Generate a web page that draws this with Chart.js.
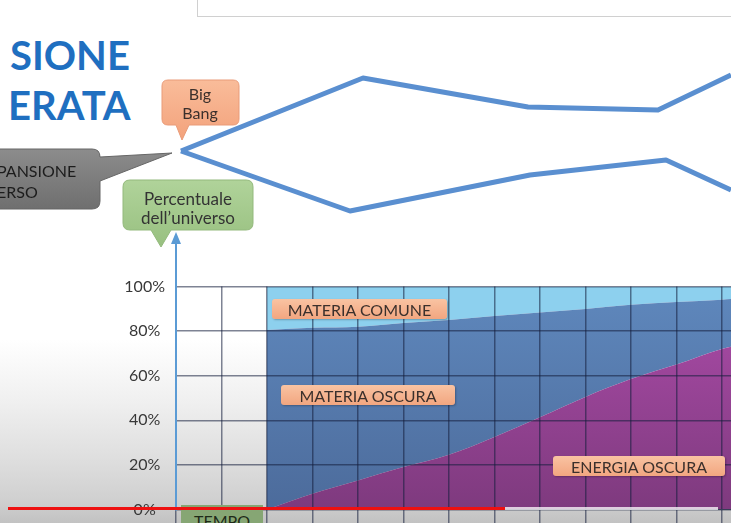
<!DOCTYPE html>
<html>
<head>
<meta charset="utf-8">
<script src="https://cdn.jsdelivr.net/npm/chart.js@4.4.0/dist/chart.umd.min.js"></script>
<style>
  html, body { margin: 0; padding: 0; }
  body {
    width: 731px; height: 523px; overflow: hidden; position: relative;
    font-family: Lato, "Open Sans", sans-serif;
    background: linear-gradient(to bottom, #fff 0px, #fff 340px, #f0f0f0 400px, #dedede 460px, #d0d0d0 500px, #c2c2c2 523px);
  }
  canvas { position: absolute; }
  #outline { left: 0; top: 0; }
  #shares { left: 0; top: 266px; }
  .title { position: absolute; color: #1f6fc0; font-weight: 700; font-size: 40px; }
  .tag {
    position: absolute; height: 20px; line-height: 21px; text-align: center;
    font-size: 16px; color: #3b302c; border-radius: 3px;
    background: linear-gradient(#f9c3a2, #f2a680);
    box-shadow: 1px 1px 2px rgba(0,0,0,0.25);
  }
  .bar { position: absolute; top: 507px; height: 3px; }
  svg { position: absolute; left: 0; top: 0; }
</style>
</head>
<body>
<div style="position:absolute;left:197px;top:0;width:540px;height:16px;border-left:1px solid #d0d0d0;border-bottom:1px solid #d0d0d0;"></div>
<div class="title" style="left:10px;top:31px;">SIONE</div>
<div class="title" style="left:8px;top:81px;">ERATA</div>

<canvas id="outline" width="731" height="260"></canvas>

<svg width="731" height="523">
  <defs>
    <linearGradient id="gOrange" x1="0" y1="0" x2="0" y2="1">
      <stop offset="0" stop-color="#f9bc9a"/><stop offset="1" stop-color="#f3a27c"/>
    </linearGradient>
    <linearGradient id="gGrey" x1="0" y1="0" x2="0" y2="1">
      <stop offset="0" stop-color="#8c8c8c"/><stop offset="1" stop-color="#6f6f6f"/>
    </linearGradient>
    <linearGradient id="gGreen" x1="0" y1="0" x2="0" y2="1">
      <stop offset="0" stop-color="#b0d39a"/><stop offset="1" stop-color="#98c080"/>
    </linearGradient>
  </defs>
  <!-- Big Bang -->
  <path d="M168,80 H233 Q239,80 239,86 V119 Q239,125 233,125 H189 L182,140 L176,125 H168 Q162,125 162,119 V86 Q162,80 168,80 Z"
        fill="url(#gOrange)" stroke="#e99b78" stroke-width="1"/>
  <text x="200" y="100" font-size="16" text-anchor="middle" fill="#3b302c" font-family="Lato">Big</text>
  <text x="200" y="119" font-size="16" text-anchor="middle" fill="#3b302c" font-family="Lato">Bang</text>
  <!-- espansione -->
  <path d="M-10,149 H92 Q100,149 100,157 L172,153 L100,181 V201 Q100,209 92,209 H-10 Z"
        fill="url(#gGrey)" stroke="#666" stroke-width="1"/>
  <text x="-3" y="177" font-size="16" fill="#1c1c1c" font-family="Lato">PANSIONE</text>
  <text x="-3" y="198" font-size="16" fill="#1c1c1c" font-family="Lato">ERSO</text>
  <!-- asse verticale -->
  <path d="M130,180 H246 Q253,180 253,187 V223 Q253,230 246,230 H171 L161,247 L151,230 H130 Q123,230 123,223 V187 Q123,180 130,180 Z"
        fill="url(#gGreen)" stroke="#93b97c" stroke-width="1"/>
  <text x="188" y="205" font-size="17" text-anchor="middle" fill="#333" font-family="Lato">Percentuale</text>
  <text x="188" y="224" font-size="17" text-anchor="middle" fill="#333" font-family="Lato">dell’universo</text>
  <line x1="176" y1="240" x2="176" y2="290" stroke="#5b9bd5" stroke-width="2"/>
  <polygon points="171,244 181,244 176,232" fill="#5b9bd5"/>
</svg>

<canvas id="shares" width="731" height="264"></canvas>

<div class="tag" style="left:272px;top:299px;width:175px;">MATERIA COMUNE</div>
<div class="tag" style="left:281px;top:385px;width:174px;">MATERIA OSCURA</div>
<div class="tag" style="left:553px;top:456px;width:172px;">ENERGIA OSCURA</div>

<svg width="731" height="523" style="pointer-events:none">
  <rect x="181" y="505" width="82" height="30" fill="#86a674"/>
  <text x="222" y="527" font-size="16" text-anchor="middle" fill="#1e2a18" font-family="Lato">TEMPO</text>
</svg>
<div class="bar" style="left:505px;width:213px;background:rgba(255,255,255,0.75);"></div>
<div class="bar" style="left:8px;width:497px;background:#ee1111;"></div>

<script>
// time steps (grid cells) where the composition is sampled
var timeSteps = [2, 3, 4, 5, 6, 7, 8, 9, 10, 11, 12, 12.2];
// share of the universe, percent
var energiaOscura = [0, 7, 13, 19, 24.5, 32.5, 41.4, 50.5, 58.5, 65, 72, 73];
var materiaOscura = [80.5, 74.5, 69, 64.7, 60.5, 54.3, 47, 39.5, 33.4, 28.1, 22.1, 21.4];
var materiaComune = [19.5, 18.5, 18, 16.3, 15, 13.2, 11.6, 10, 8.1, 6.9, 5.9, 5.6];
var yTicks = [0, 20, 40, 60, 80, 100];

// edges of the expanding universe sketch
var upperX = [181, 363, 528, 658, 731];
var upperEdge = [151, 78, 107, 110, 75];
var lowerX = [181, 350, 530, 666, 731];
var lowerEdge = [151, 211, 175, 160, 190];

function points(xs, ys) {
  return xs.map(function (x, i) { return { x: x, y: ys[i] }; });
}

function vGrad(top, bottom) {
  return function (ctx) {
    var area = ctx.chart.chartArea;
    if (!area) return top;
    var g = ctx.chart.ctx.createLinearGradient(0, area.top, 0, area.bottom);
    g.addColorStop(0, top);
    g.addColorStop(1, bottom);
    return g;
  };
}

var gridColor = 'rgba(20,30,60,0.55)';

new Chart(document.getElementById('outline'), {
  type: 'scatter',
  data: {
    datasets: [
      { data: points(upperX, upperEdge) },
      { data: points(lowerX, lowerEdge) }
    ]
  },
  options: {
    responsive: false,
    animation: false,
    layout: { padding: 0 },
    showLine: true,
    elements: {
      point: { radius: 0 },
      line: { borderColor: '#5a8fd0', borderWidth: 5, tension: 0, borderJoinStyle: 'round' }
    },
    plugins: { legend: { display: false }, tooltip: { enabled: false } },
    scales: {
      x: { type: 'linear', display: false, min: 0, max: 731 },
      y: { type: 'linear', display: false, min: 0, max: 260, reverse: true }
    }
  }
});

new Chart(document.getElementById('shares'), {
  type: 'line',
  data: {
    datasets: [
      { label: 'Energia oscura', data: points(timeSteps, energiaOscura), fill: 'origin',
        backgroundColor: vGrad('#ad4caa', '#7e3a7e') },
      { label: 'Materia oscura', data: points(timeSteps, materiaOscura), fill: '-1',
        backgroundColor: vGrad('#5f88bd', '#4c6b9b') },
      { label: 'Materia comune', data: points(timeSteps, materiaComune), fill: '-1',
        backgroundColor: '#8dd0ee' }
    ]
  },
  options: {
    responsive: false,
    animation: false,
    layout: { padding: { top: 17, right: 0, bottom: 0, left: 0 } },
    elements: {
      point: { radius: 0 },
      line: { borderWidth: 0, tension: 0.4, cubicInterpolationMode: 'monotone' }
    },
    plugins: { legend: { display: false }, tooltip: { enabled: false } },
    scales: {
      x: {
        type: 'linear', min: 0, max: 12.2,
        ticks: { display: false, stepSize: 1, includeBounds: false },
        grid: { z: 1, color: gridColor, lineWidth: 1.5, tickLength: 14 },
        // border after the grid, so its position is already known
        border: { z: 1, color: gridColor }
      },
      y: {
        stacked: true, min: 0, max: 100,
        afterBuildTicks: function (s) { s.ticks = yTicks.map(function (v) { return { value: v }; }); },
        afterFit: function (s) { s.width = 176; },
        ticks: {
          callback: function (v) { return v + '%'; },
          crossAlign: 'center', padding: 11, color: '#383838',
          font: { family: 'Lato', size: 16 }
        },
        grid: { z: 1, color: gridColor, lineWidth: 1.5, drawTicks: false },
        border: { z: 2, color: '#5b9bd5', width: 2 }
      }
    }
  }
});
</script>
</body>
</html>
